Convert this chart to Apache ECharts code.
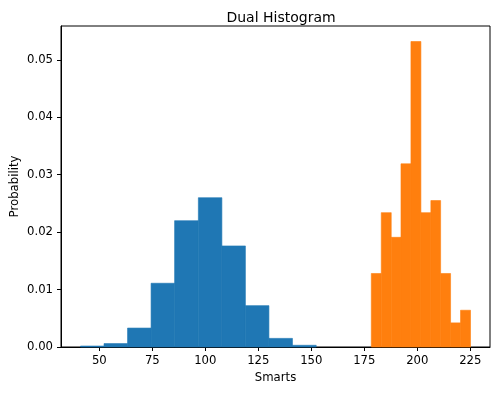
<!DOCTYPE html>
<html>
<head>
<meta charset="utf-8">
<script src="https://cdn.jsdelivr.net/npm/echarts@6/dist/echarts.min.js"></script>
<style>html,body{margin:0;padding:0;background:#fff;}#c{width:500px;height:393px;}</style>
</head>
<body>
<div id="c"></div>
<script>
// Bin edges and density values
const blueEdges = [41.1, 52.2, 63.3, 74.4, 85.5, 96.7, 107.8, 118.9, 130.0, 141.1, 152.3];
const blueDensity = [0.00017, 0.0006, 0.0033, 0.0111, 0.0220, 0.0260, 0.0176, 0.0072, 0.0015, 0.0003];
const orangeEdges = [178.3, 183.0, 187.7, 192.3, 197.0, 201.7, 206.4, 211.0, 215.7, 220.4, 225.1];
const orangeDensity = [0.0128, 0.0234, 0.0191, 0.0319, 0.0532, 0.0234, 0.0255, 0.0128, 0.0042, 0.0064];
const xTicks = [50, 75, 100, 125, 150, 175, 200, 225];
const yTicks = [0, 0.01, 0.02, 0.03, 0.04, 0.05];

function binsData(edges, dens) {
  return dens.map((d, i) => [edges[i], edges[i + 1], d]);
}
function renderBar(params, api) {
  const p0 = api.coord([api.value(0), api.value(2)]);
  const p1 = api.coord([api.value(1), 0]);
  const c = api.visual('color');
  return {
    type: 'rect',
    shape: { x: p0[0], y: p0[1], width: p1[0] - p0[0], height: p1[1] - p0[1] },
    style: { fill: c, stroke: c, lineWidth: 0.6 }
  };
}

const font = 'DejaVu Sans';
const chart = echarts.init(document.getElementById('c'), null, { renderer: 'canvas' });
chart.setOption({
  animation: false,
  backgroundColor: '#fff',
  title: {
    text: 'Dual Histogram', left: 276, top: 6, textAlign: 'center',
    textStyle: { fontFamily: font, fontSize: 14, fontWeight: 'normal', color: '#000' }
  },
  grid: { left: 61, right: 10, top: 26, bottom: 46, outerBoundsMode: 'none', containLabel: false,
    show: true, borderColor: '#000', borderWidth: 1, backgroundColor: 'transparent' },
  xAxis: {
    type: 'value', min: 31.9, max: 234.3,
    name: 'Smarts', nameLocation: 'middle', nameGap: 24,
    nameTextStyle: { fontFamily: font, fontSize: 11.7, color: '#000' },
    splitLine: { show: false },
    axisLine: { show: true, lineStyle: { color: '#000', width: 1 } },
    axisTick: { show: true, length: 4, customValues: xTicks, lineStyle: { color: '#000' } },
    axisLabel: { customValues: xTicks, margin: 8, fontFamily: font, fontSize: 11.7, color: '#000' }
  },
  yAxis: {
    type: 'value', min: 0, max: 0.0559,
    name: 'Probability', nameLocation: 'middle', nameGap: 40, nameMoveOverlap: false,
    nameTextStyle: { fontFamily: font, fontSize: 11.7, color: '#000' },
    splitLine: { show: false },
    axisLine: { show: true, lineStyle: { color: '#000', width: 1 } },
    axisTick: { show: true, length: 4, customValues: yTicks, lineStyle: { color: '#000' } },
    axisLabel: { customValues: yTicks, margin: 8, fontFamily: font, fontSize: 11.7, color: '#000',
      formatter: v => v.toFixed(2) }
  },
  series: [
    { type: 'custom', name: 'a', color: '#1f77b4', renderItem: renderBar, encode: { x: [0, 1], y: 2 }, data: binsData(blueEdges, blueDensity) },
    { type: 'custom', name: 'b', color: '#ff7f0e', renderItem: renderBar, encode: { x: [0, 1], y: 2 }, data: binsData(orangeEdges, orangeDensity) }
  ]
});
</script>
</body>
</html>
